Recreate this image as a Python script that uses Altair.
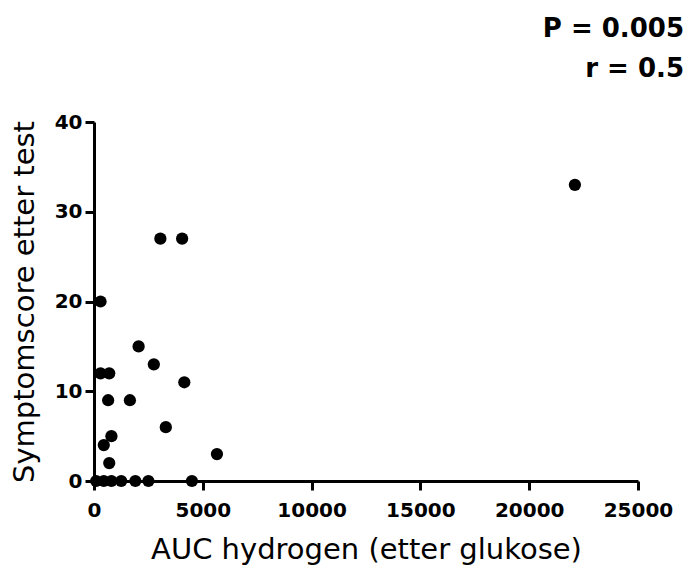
import altair as alt
import pandas as pd

auc_hydrogen = [300, 2050, 2750, 300, 700, 4150, 650, 1650, 3300, 800, 450, 700, 5650,
                100, 450, 800, 1250, 1900, 2500, 4500,
                3050, 4050, 22100]
symptom_score = [20, 15, 13, 12, 12, 11, 9, 9, 6, 5, 4, 2, 3,
                 0, 0, 0, 0, 0, 0, 0,
                 27, 27, 33]

x_ticks = [0, 5000, 10000, 15000, 20000, 25000]
y_ticks = [0, 10, 20, 30, 40]

df = pd.DataFrame({"auc": auc_hydrogen, "score": symptom_score})

chart = alt.Chart(df).mark_circle(size=150, color="black", opacity=1).encode(
    x=alt.X("auc:Q",
            scale=alt.Scale(domain=[0, 25000], nice=False, zero=False),
            axis=alt.Axis(values=x_ticks, format="d", title="AUC hydrogen (etter glukose)",
                          labelPadding=10, labelFlush=False,
                          titleY=77, titleBaseline="alphabetic")),
    y=alt.Y("score:Q",
            scale=alt.Scale(domain=[0, 40], nice=False),
            axis=alt.Axis(values=y_ticks, format="d", title="Symptomscore etter test",
                          labelPadding=3, labelFlush=False, titleX=-61, titleY=179.5,
                          titleBaseline="alphabetic", titleAngle=-90)),
).properties(
    width=544,
    height=359,
    background="white",
    autosize=alt.AutoSizeParams(type="none"),
    padding={"left": 86, "top": 114, "right": 48, "bottom": 86},
    title=alt.TitleParams(
        text=["P = 0.005", "r = 0.5"],
        anchor="end",
        frame="group",
        font="DejaVu Sans",
        fontSize=26,
        fontWeight="bold",
        color="black",
        lineHeight=40,
        dx=46,
        offset=30,
    ),
).configure_view(stroke=None).configure_axis(
    grid=False,
    domainColor="black",
    domainWidth=3,
    tickColor="black",
    tickWidth=3,
    tickSize=9,
    labelFont="DejaVu Sans",
    labelFontSize=20,
    labelFontWeight="bold",
    labelColor="black",
    titleFont="DejaVu Sans",
    titleFontSize=29,
    titleFontWeight="normal",
    titleColor="black",
)

chart.save("out.html", embed_options={"renderer": "svg", "actions": False})
